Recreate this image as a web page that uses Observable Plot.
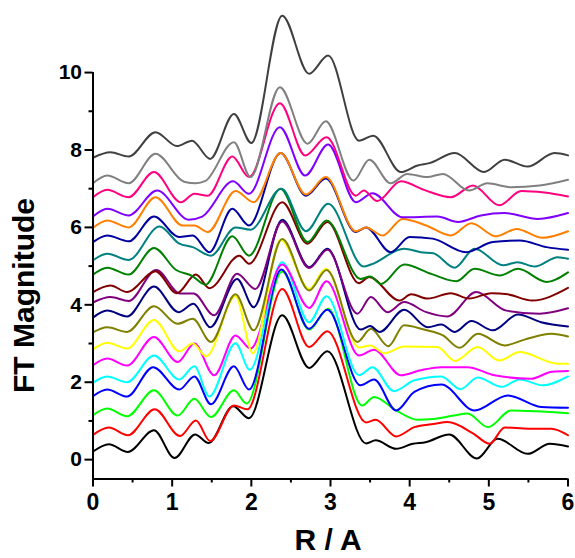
<!DOCTYPE html>
<html><head><meta charset="utf-8">
<script src="https://cdn.jsdelivr.net/npm/d3@7"></script>
<script src="https://cdn.jsdelivr.net/npm/@observablehq/plot@0.6"></script>
<style>body{margin:0;background:#fff} svg{display:block}</style>
</head><body><div id="chart"></div>
<script>
// Series points [R, FT magnitude], bottom to top
const sBlack = [[0,0.21],[0.2,0.40],[0.44,0.2],[0.77,0.76],[1.03,0.04],[1.29,0.65],[1.46,0.43],[1.77,1.38],[1.97,1.07],[2.39,3.73],[2.73,2.37],[2.96,2.80],[3.45,0.42],[3.57,0.5],[3.83,0.28],[4.04,0.41],[4.2,0.45],[4.5,0.65],[4.85,0.03],[5.11,0.54],[5.49,0.15],[5.77,0.41],[6,0.34]];
const sRed = [[0,0.64],[0.2,0.83],[0.44,0.63],[0.78,1.30],[1.1,0.61],[1.3,1.01],[1.48,0.48],[1.78,1.40],[1.95,1.3],[2.39,4.41],[2.73,2.91],[2.96,3.32],[3.45,0.96],[3.57,1.03],[3.83,0.6],[4.06,0.84],[4.3,0.92],[4.48,0.97],[4.8,0.68],[5.01,0.41],[5.2,0.83],[5.5,0.8],[5.79,0.8],[6,0.63]];
const sLime = [[0,1.15],[0.18,1.32],[0.43,1.12],[0.77,1.79],[1.07,1.14],[1.28,1.57],[1.49,1.10],[1.78,1.79],[1.94,1.45],[2.39,4.86],[2.73,3.36],[2.97,3.9],[3.4,1.4],[3.55,1.62],[3.83,1.27],[4.1,1.03],[4.3,1.05],[4.56,1.14],[4.73,1.19],[4.99,0.84],[5.28,1.27],[5.6,1.25],[6,1.2]];
const sBlue = [[0,1.64],[0.18,1.81],[0.43,1.63],[0.76,2.39],[1.09,1.81],[1.28,2.15],[1.49,1.43],[1.78,2.41],[1.97,1.81],[2.38,4.91],[2.73,3.38],[2.96,3.87],[3.38,1.92],[3.55,2.07],[3.83,1.27],[4.06,1.75],[4.4,1.94],[4.82,1.27],[5.24,1.66],[5.66,1.36],[6,1.34]];
const sCyan = [[0,1.99],[0.18,2.15],[0.43,2.0],[0.77,2.69],[1.09,2.07],[1.28,2.41],[1.47,1.63],[1.8,3.01],[1.98,2.32],[2.39,5.1],[2.73,3.55],[2.95,4.22],[3.36,2.18],[3.53,2.39],[3.8,1.77],[4.06,2.05],[4.4,2.15],[4.64,1.82],[4.86,2.12],[5.16,1.88],[5.39,2.07],[5.68,1.92],[6,2.15]];
const sMagenta = [[0,2.44],[0.18,2.61],[0.43,2.43],[0.77,3.17],[1.07,2.52],[1.28,3.0],[1.53,2.18],[1.8,3.21],[1.99,2.87],[2.39,5.04],[2.73,3.92],[2.95,4.61],[3.36,2.69],[3.55,2.84],[3.89,2.18],[4.14,2.31],[4.4,2.39],[4.73,2.39],[5.07,2.18],[5.53,2.09],[5.8,2.27],[6,2.29]];
const sYellow = [[0,2.85],[0.18,3.02],[0.43,2.87],[0.77,3.61],[1.09,2.8],[1.26,3.0],[1.43,2.67],[1.8,4.22],[2.02,2.75],[2.37,5.68],[2.73,4.41],[2.94,4.93],[3.36,2.9],[3.5,2.95],[3.68,2.75],[3.93,2.92],[4.35,2.91],[4.57,2.55],[4.86,2.91],[5.13,2.56],[5.39,2.78],[5.87,2.48],[6,2.48]];
const sOlive = [[0,3.29],[0.18,3.42],[0.43,3.3],[0.77,3.96],[1.07,3.51],[1.26,3.64],[1.49,3.04],[1.8,4.27],[2.03,3.34],[2.39,5.7],[2.73,4.37],[2.95,4.9],[3.34,3.04],[3.51,3.38],[3.73,2.93],[3.93,3.47],[4.18,3.36],[4.42,3.21],[4.63,2.89],[4.86,3.25],[5.2,2.95],[5.45,3.1],[5.79,3.25],[6,3.18]];
const sNavy = [[0,3.67],[0.18,3.85],[0.43,3.7],[0.77,4.47],[1.08,3.81],[1.27,4.03],[1.48,3.42],[1.82,4.67],[2.03,3.94],[2.39,6.2],[2.73,4.97],[2.96,5.45],[3.38,3.36],[3.5,3.45],[3.62,3.3],[3.93,3.87],[4.23,3.42],[4.4,3.49],[4.57,3.3],[4.78,3.58],[5.05,3.34],[5.37,3.75],[5.66,3.55],[6,3.44]];
const sPurple = [[0,4.06],[0.22,4.2],[0.45,4.1],[0.8,4.9],[1.1,4.29],[1.27,4.29],[1.53,3.73],[1.82,4.8],[2.05,4.41],[2.39,6.15],[2.73,4.95],[2.96,5.42],[3.34,3.77],[3.51,4.2],[3.72,3.81],[3.93,4.07],[4.21,3.81],[4.48,3.7],[4.84,4.33],[5.22,3.85],[5.64,3.77],[6,3.91]];
const sMaroon = [[0,4.33],[0.22,4.5],[0.43,4.33],[0.79,4.87],[1.06,4.3],[1.3,4.78],[1.47,4.43],[1.85,5.27],[1.97,5.06],[2.39,6.65],[2.71,5.58],[2.96,6.14],[3.36,4.56],[3.49,4.72],[3.87,4.11],[4.02,4.27],[4.23,4.16],[4.52,4.3],[4.75,4.16],[5.03,4.3],[5.24,4.27],[5.55,4.11],[6,4.44]];
const sGreen = [[0,4.78],[0.18,4.96],[0.45,4.78],[0.77,5.47],[1.05,4.9],[1.25,4.75],[1.42,4.52],[1.76,5.77],[1.97,5.27],[2.37,7.0],[2.71,5.62],[2.95,6.18],[3.38,4.67],[3.5,4.73],[3.64,4.54],[3.93,5.04],[4.27,4.8],[4.59,4.61],[4.82,4.93],[5.14,4.76],[5.37,4.93],[5.73,4.59],[6,4.84]];
const sTeal = [[0,5.15],[0.18,5.32],[0.45,5.16],[0.84,6.02],[1.09,5.58],[1.26,5.49],[1.49,5.27],[1.8,6.0],[1.99,5.94],[2.38,7.0],[2.69,5.9],[2.97,6.61],[3.42,4.99],[3.51,5.04],[3.93,5.45],[4.14,5.36],[4.3,5.33],[4.57,4.96],[4.82,5.45],[5.18,5.02],[5.36,5.1],[5.58,4.99],[5.87,5.23],[6,5.19]];
const sDarkBlue = [[0,5.62],[0.18,5.79],[0.45,5.64],[0.77,6.28],[1.09,5.75],[1.26,5.79],[1.47,5.36],[1.76,6.48],[1.97,6.05],[2.37,7.92],[2.69,6.82],[2.94,7.26],[3.32,5.88],[3.45,6.0],[3.76,5.36],[4.0,5.75],[4.29,5.71],[4.71,5.36],[5.05,5.62],[5.39,5.66],[5.73,5.49],[6,5.42]];
const sOrange = [[0,5.99],[0.18,6.18],[0.45,6.0],[0.79,6.78],[1.13,6.05],[1.28,6.05],[1.45,5.88],[1.8,6.94],[2.03,6.65],[2.37,7.92],[2.69,6.85],[2.94,7.3],[3.32,5.9],[3.45,6.0],[3.66,5.79],[3.91,6.22],[4.21,6.05],[4.52,5.79],[4.78,6.11],[5.09,5.77],[5.35,5.96],[5.68,5.73],[6,5.9]];
const sViolet = [[0,6.28],[0.18,6.48],[0.45,6.31],[0.81,6.95],[1.21,6.2],[1.38,6.28],[1.77,7.19],[1.97,6.87],[2.36,8.59],[2.68,7.34],[2.97,8.14],[3.32,6.65],[3.53,6.88],[3.91,6.26],[4.35,6.28],[4.61,6.14],[4.9,6.31],[5.2,6.37],[5.62,6.22],[6,6.37]];
const sPink = [[0,6.78],[0.18,6.97],[0.45,6.78],[0.77,7.43],[1.11,6.65],[1.28,6.87],[1.45,6.82],[1.76,7.83],[1.97,7.3],[2.36,9.21],[2.68,7.86],[2.95,8.33],[3.32,6.82],[3.42,6.95],[3.59,6.68],[3.89,7.19],[4.18,6.97],[4.52,6.78],[4.8,7.08],[5.13,6.57],[5.41,6.94],[5.7,6.9],[6,6.8]];
const sGray = [[0,7.14],[0.18,7.34],[0.45,7.14],[0.79,7.9],[1.15,7.18],[1.3,7.14],[1.42,7.2],[1.78,8.2],[1.99,7.3],[2.36,9.62],[2.71,8.16],[2.94,8.74],[3.29,7.21],[3.49,7.75],[3.76,7.14],[3.97,7.38],[4.22,7.3],[4.42,7.38],[4.75,6.95],[4.98,7.14],[5.28,7.04],[5.64,7.08],[6,7.23]];
const sDarkGray = [[0,7.8],[0.22,7.94],[0.45,7.83],[0.79,8.46],[1.06,8.1],[1.25,8.24],[1.48,7.77],[1.78,8.93],[2.0,8.18],[2.39,11.47],[2.73,9.97],[2.97,10.44],[3.36,8.24],[3.54,8.37],[3.89,7.43],[4.1,7.6],[4.25,7.66],[4.57,7.92],[4.94,7.43],[5.2,7.75],[5.49,7.57],[5.83,7.92],[6,7.86]];

const seriesPoints = [sBlack,sRed,sLime,sBlue,sCyan,sMagenta,sYellow,sOlive,sNavy,sPurple,sMaroon,sGreen,sTeal,sDarkBlue,sOrange,sViolet,sPink,sGray,sDarkGray];
const seriesColors = ["#000000","#ff0000","#00ff00","#0000ff","#00ffff","#ff00ff","#ffff00","#808000","#000080","#800080","#800000","#008000","#008080","#0000a0","#ff8000","#8000ff","#ff0080","#808080","#404040"];

const yMajor = [0,2,4,6,8,10];
const yMinor = [1,3,5,7,9];
const xMajor = [0,1,2,3,4,5,6];
const xMinor = [0.5,1.5,2.5,3.5,4.5,5.5];
const yTitle = "FT Magnitude";
const xTitle = "R / A";

const font = "'Liberation Sans', Arial, sans-serif";
const chart = Plot.plot({
  width: 575, height: 558,
  marginLeft: 92.5, marginRight: 7.5, marginTop: 14, marginBottom: 79.5,
  x: {domain: [0, 6]},
  y: {domain: [-0.5, 11.5]},
  style: {fontFamily: font, fontWeight: "bold", background: "white", color: "black"},
  marks: [
    ...seriesPoints.map((pts, i) => Plot.line(pts, {x: d => d[0], y: d => d[1], stroke: seriesColors[i], strokeWidth: 2, curve: "monotone-x"})),
    Plot.ruleX([0], {y1: -0.5, y2: 10, strokeWidth: 2}),
    Plot.ruleY([-0.5], {x1: 0, x2: 6, strokeWidth: 2}),
    Plot.axisY(yMajor, {anchor: "left", tickSize: 8, tickPadding: 3, fontSize: 21, strokeWidth: 2, label: null, tickFormat: d => String(d)}),
    Plot.axisY(yMinor, {anchor: "left", tickSize: 4, text: null, strokeWidth: 2, label: null}),
    Plot.axisX(xMajor, {anchor: "bottom", tickSize: 8, tickPadding: 6.5, fontSize: 23, strokeWidth: 2, label: null, tickFormat: d => String(d)}),
    Plot.axisX(xMinor, {anchor: "bottom", tickSize: 4, text: null, strokeWidth: 2, label: null}),
    Plot.text([4.24], {y: d => d, frameAnchor: "left", textAnchor: "middle", lineAnchor: "middle", dx: -68.5, rotate: -90, text: () => yTitle, fontSize: 30, fontWeight: "bold", fill: "black"}),
    Plot.text([3], {x: d => d, frameAnchor: "bottom", textAnchor: "middle", lineAnchor: "middle", dx: -2.5, dy: 61, text: () => xTitle, fontSize: 30, fontWeight: "bold", fill: "black"})
  ]
});
document.getElementById("chart").appendChild(chart);
</script>
</body></html>
